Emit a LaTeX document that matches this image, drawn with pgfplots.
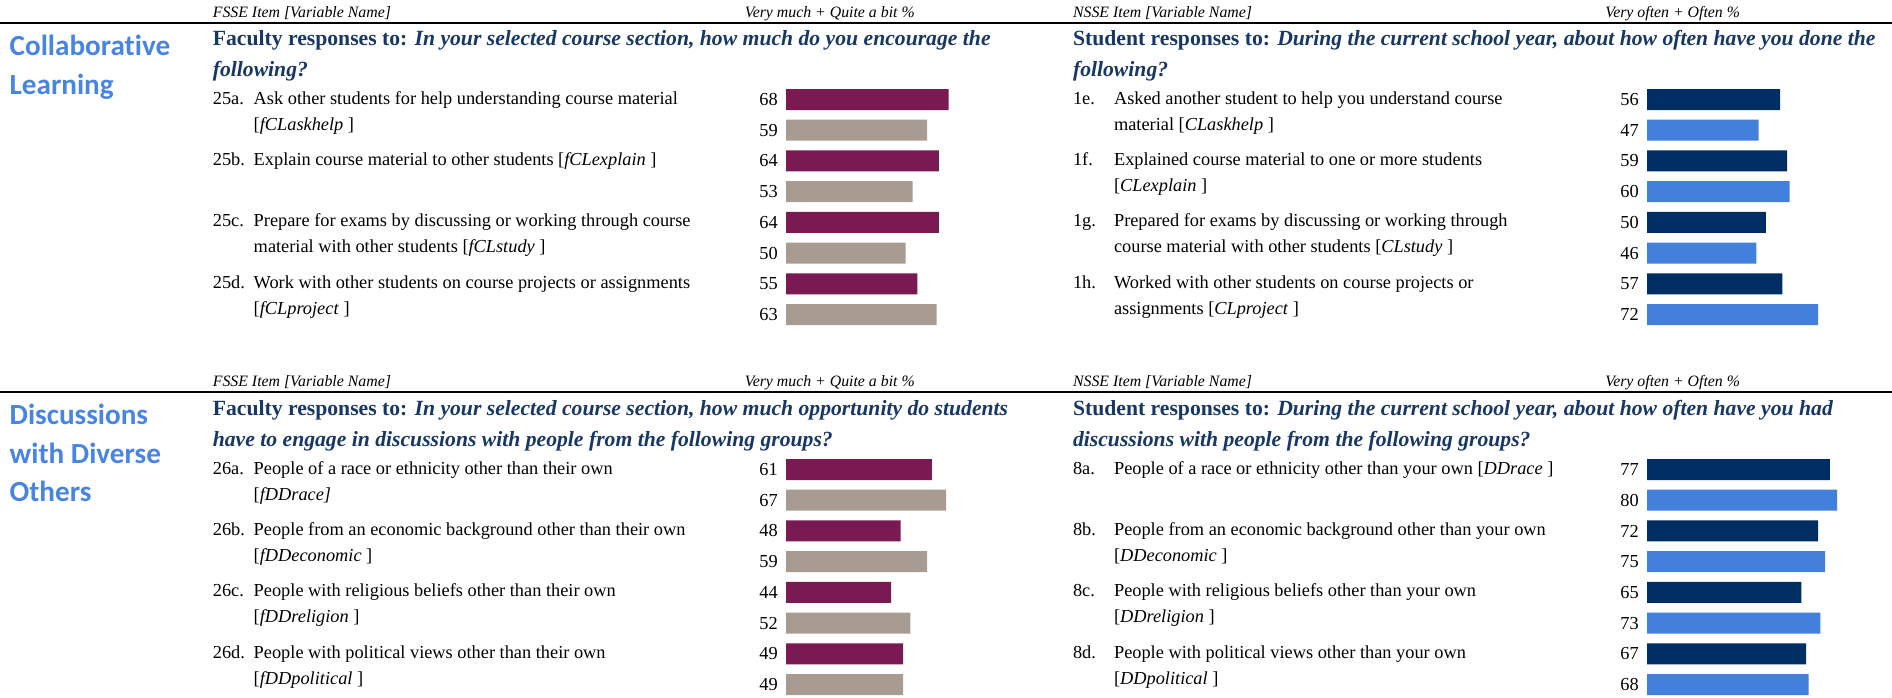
\documentclass[border=0pt]{standalone}
\usepackage{pgfplots}
\pgfplotsset{compat=1.18}
\usepackage{pgfplotstable}
\usepackage{fontspec}
\setmainfont{Liberation Serif}
\newfontfamily\calibri[Ligatures={NoCommon}]{Carlito}
\definecolor{maroon}{RGB}{122,26,82}
\definecolor{taupe}{RGB}{168,156,146}
\definecolor{navybar}{RGB}{0,45,98}
\definecolor{bluebar}{RGB}{66,128,219}
\definecolor{titleblue}{RGB}{72,132,226}
\definecolor{headnavy}{RGB}{23,55,100}

\newcommand\bodyf{\fontsize{11}{13}\selectfont}
\newcommand\hdrf{\fontsize{13}{15}\selectfont\bfseries\color{headnavy}}
\newcommand\smallhdr{\fontsize{9.5}{11}\selectfont\itshape}
\newcommand\ttlf{\calibri\fontsize{17.5}{20}\selectfont\bfseries\color{titleblue}}

\pgfplotstableread{
y v
0 68
2 64
4 64
6 55
}\CLfd
\pgfplotstableread{
y v
1 59
3 53
5 50
7 63
}\CLfl
\pgfplotstableread{
y v
0 56
2 59
4 50
6 57
}\CLsd
\pgfplotstableread{
y v
1 47
3 60
5 46
7 72
}\CLsl
\pgfplotstableread{
y v
0 61
2 48
4 44
6 49
}\DDfd
\pgfplotstableread{
y v
1 67
3 59
5 52
7 49
}\DDfl
\pgfplotstableread{
y v
0 77
2 72
4 65
6 67
}\DDsd
\pgfplotstableread{
y v
1 80
3 75
5 73
7 68
}\DDsl

\pgfplotsset{
  panel/.style={hide axis, clip=false, xmin=0, xmax=100, ymin=-0.4, ymax=7.4,
    y dir=reverse, anchor=origin, y=18.432pt},
  bars/.style={xbar, bar width=12.6pt, bar shift=0pt, draw=none, fill=#1},
  lbl/.style={draw=none, mark=none, nodes near coords, point meta=explicit symbolic,
    nodes near coords style={anchor=east, inner sep=0pt, xshift=-4.8pt, font=\bodyf, text=black}},
}

\newcommand\itm[4]{%
  \node at (#1,#3) {\bodyf #4};}

\begin{document}
\begin{tikzpicture}
\useasboundingbox (0,0) rectangle (1135.2pt,-418.2pt);

\begin{scope}[x=0.6pt,y=-0.6pt, every node/.style={anchor=base west, inner sep=0pt}]
% ---------- top panel ----------
\node at (212.5,17.7) {\smallhdr FSSE Item [Variable Name]};
\node at (744.5,17.7) {\smallhdr Very much + Quite a bit \%};
\node at (1072.7,17.7) {\smallhdr NSSE Item [Variable Name]};
\node at (1605,17.7) {\smallhdr Very often + Often \%};
\draw[line width=1.2pt] (0,23) -- (1892,23);
\node at (9.3,55.7) {\ttlf Collaborative};
\node at (9.3,94.4) {\ttlf Learning};
\node at (212.5,45) {\hdrf Faculty responses to: \textit{In your selected course section, how much do you encourage the}};
\node at (212.5,76.4) {\hdrf\itshape following?};
\node at (1072.7,45) {\hdrf Student responses to: \textit{During the current school year, about how often have you done the}};
\node at (1072.7,76.4) {\hdrf\itshape following?};

\itm{212.5}{}{104}{25a.}
\itm{253.4}{}{104}{Ask other students for help understanding course material}
\itm{253.4}{}{130}{[\textit{fCLaskhelp} ]}
\itm{212.5}{}{165.4}{25b.}
\itm{253.4}{}{165.4}{Explain course material to other students [\textit{fCLexplain} ]}
\itm{212.5}{}{226.9}{25c.}
\itm{253.4}{}{226.9}{Prepare for exams by discussing or working through course}
\itm{253.4}{}{252.9}{material with other students [\textit{fCLstudy} ]}
\itm{212.5}{}{288.3}{25d.}
\itm{253.4}{}{288.3}{Work with other students on course projects or assignments}
\itm{253.4}{}{314.3}{[\textit{fCLproject} ]}

\itm{1072.7}{}{104}{1e.}
\itm{1113.7}{}{104}{Asked another student to help you understand course}
\itm{1113.7}{}{130}{material [\textit{CLaskhelp} ]}
\itm{1072.7}{}{165.4}{1f.}
\itm{1113.7}{}{165.4}{Explained course material to one or more students}
\itm{1113.7}{}{191.4}{[\textit{CLexplain} ]}
\itm{1072.7}{}{226.9}{1g.}
\itm{1113.7}{}{226.9}{Prepared for exams by discussing or working through}
\itm{1113.7}{}{252.9}{course material with other students [\textit{CLstudy} ]}
\itm{1072.7}{}{288.3}{1h.}
\itm{1113.7}{}{288.3}{Worked with other students on course projects or}
\itm{1113.7}{}{314.3}{assignments [\textit{CLproject} ]}

% ---------- bottom panel ----------
\node at (212.5,386.5) {\smallhdr FSSE Item [Variable Name]};
\node at (744.5,386.5) {\smallhdr Very much + Quite a bit \%};
\node at (1072.7,386.5) {\smallhdr NSSE Item [Variable Name]};
\node at (1605,386.5) {\smallhdr Very often + Often \%};
\draw[line width=1.2pt] (0,392) -- (1892,392);
\node at (9.3,424.4) {\ttlf Discussions};
\node at (9.3,463) {\ttlf with Diverse};
\node at (9.3,501.6) {\ttlf Others};
\node at (212.5,415) {\hdrf Faculty responses to: \textit{In your selected course section, how much opportunity do students}};
\node at (212.5,446.4) {\hdrf\itshape have to engage in discussions with people from the following groups?};
\node at (1072.7,415) {\hdrf Student responses to: \textit{During the current school year, about how often have you had}};
\node at (1072.7,446.4) {\hdrf\itshape discussions with people from the following groups?};

\itm{212.5}{}{474}{26a.}
\itm{253.4}{}{474}{People of a race or ethnicity other than their own}
\itm{253.4}{}{500}{[\textit{fDDrace]}}
\itm{212.5}{}{535.4}{26b.}
\itm{253.4}{}{535.4}{People from an economic background other than their own}
\itm{253.4}{}{561.4}{[\textit{fDDeconomic} ]}
\itm{212.5}{}{596.9}{26c.}
\itm{253.4}{}{596.9}{People with religious beliefs other than their own}
\itm{253.4}{}{622.9}{[\textit{fDDreligion} ]}
\itm{212.5}{}{658.3}{26d.}
\itm{253.4}{}{658.3}{People with political views other than their own}
\itm{253.4}{}{684.3}{[\textit{fDDpolitical} ]}

\itm{1072.7}{}{474}{8a.}
\itm{1113.7}{}{474}{People of a race or ethnicity other than your own [\textit{DDrace} ]}
\itm{1072.7}{}{535.4}{8b.}
\itm{1113.7}{}{535.4}{People from an economic background other than your own}
\itm{1113.7}{}{561.4}{[\textit{DDeconomic} ]}
\itm{1072.7}{}{596.9}{8c.}
\itm{1113.7}{}{596.9}{People with religious beliefs other than your own}
\itm{1113.7}{}{622.9}{[\textit{DDreligion} ]}
\itm{1072.7}{}{658.3}{8d.}
\itm{1113.7}{}{658.3}{People with political views other than your own}
\itm{1113.7}{}{684.3}{[\textit{DDpolitical} ]}
\end{scope}

% ---------- bars ----------
\begin{axis}[panel, x=1.434pt, at={(471.6pt,-59.7pt)}]
\addplot[bars=maroon] table[x=v,y=y]{\CLfd};
\addplot[bars=taupe] table[x=v,y=y]{\CLfl};
\addplot[lbl] table[x expr=0,y=y,meta=v]{\CLfd};
\addplot[lbl] table[x expr=0,y=y,meta=v]{\CLfl};
\end{axis}
\begin{axis}[panel, x=1.425pt, at={(988.2pt,-59.7pt)}]
\addplot[bars=navybar] table[x=v,y=y]{\CLsd};
\addplot[bars=bluebar] table[x=v,y=y]{\CLsl};
\addplot[lbl] table[x expr=0,y=y,meta=v]{\CLsd};
\addplot[lbl] table[x expr=0,y=y,meta=v]{\CLsl};
\end{axis}
\begin{axis}[panel, x=1.434pt, at={(471.6pt,-281.7pt)}]
\addplot[bars=maroon] table[x=v,y=y]{\DDfd};
\addplot[bars=taupe] table[x=v,y=y]{\DDfl};
\addplot[lbl] table[x expr=0,y=y,meta=v]{\DDfd};
\addplot[lbl] table[x expr=0,y=y,meta=v]{\DDfl};
\end{axis}
\begin{axis}[panel, x=1.425pt, at={(988.2pt,-281.7pt)}]
\addplot[bars=navybar] table[x=v,y=y]{\DDsd};
\addplot[bars=bluebar] table[x=v,y=y]{\DDsl};
\addplot[lbl] table[x expr=0,y=y,meta=v]{\DDsd};
\addplot[lbl] table[x expr=0,y=y,meta=v]{\DDsl};
\end{axis}
\end{tikzpicture}
\end{document}
